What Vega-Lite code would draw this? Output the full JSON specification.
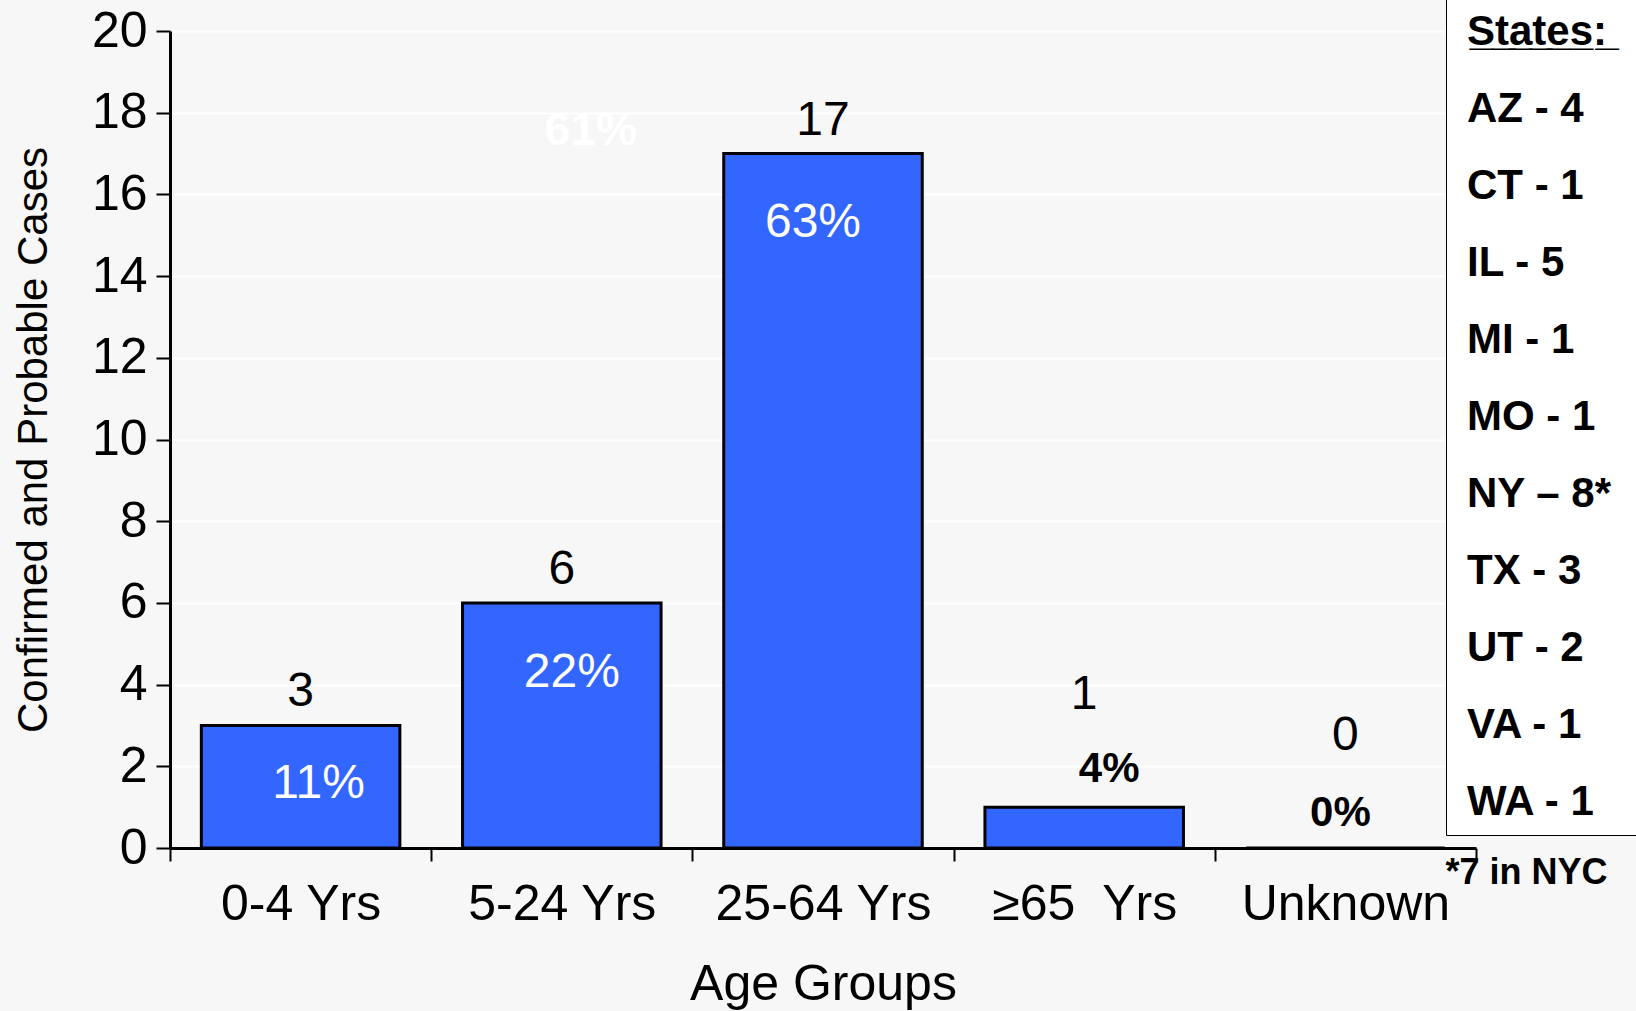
{
  "$schema": "https://vega.github.io/schema/vega-lite/v6.json",
  "background": "#F7F7F7",
  "padding": {"left": 12, "top": -2, "right": 0, "bottom": 5},
  "width": 1306,
  "height": 817,
  "config": {
    "font": "Liberation Sans",
    "view": {"stroke": null},
    "axis": {"labelFont": "Liberation Sans", "titleFont": "Liberation Sans", "labelColor": "black", "titleColor": "black", "titleFontWeight": "normal"}
  },
  "layer": [
    {
      "data": {
        "values": [
          {"age": "0-4 Yrs", "count": 3, "pct": "11%"},
          {"age": "5-24 Yrs", "count": 6, "pct": "22%"},
          {"age": "25-64 Yrs", "count": 17, "pct": "63%"},
          {"age": "≥65\u00a0 Yrs", "count": 1, "pct": "4%"},
          {"age": "Unknown", "count": 0, "pct": "0%"}
        ]
      },
      "encoding": {
        "x": {
          "field": "age", "type": "nominal", "sort": null,
          "scale": {"domain": ["0-4 Yrs", "5-24 Yrs", "25-64 Yrs", "≥65\u00a0 Yrs", "Unknown"], "paddingInner": 0, "paddingOuter": 0},
          "axis": {
            "title": "Age Groups", "titleFontSize": 50, "titlePadding": 30,
            "labelFontSize": 50, "labelAngle": 0, "labelPadding": 18, "labelLimit": 400,
            "domainColor": "black", "domainWidth": 3,
            "tickColor": "black", "tickWidth": 2, "tickSize": 13, "tickBand": "extent",
            "grid": false
          }
        },
        "y": {
          "field": "count", "type": "quantitative",
          "scale": {"domain": [0, 20], "nice": false},
          "axis": {
            "title": "Confirmed and Probable Cases", "titleFontSize": 42, "titlePadding": 36,
            "values": [0, 2, 4, 6, 8, 10, 12, 14, 16, 18, 20],
            "labelFontSize": 50, "labelPadding": 9,
            "domainColor": "black", "domainWidth": 3,
            "tickColor": "black", "tickWidth": 2, "tickSize": 14,
            "grid": true, "gridColor": "white", "gridWidth": 2
          }
        }
      },
      "layer": [
        {"mark": {"type": "bar", "color": "#3366FF", "stroke": "black", "strokeWidth": 3, "width": {"band": 0.76}}},
        {
          "transform": [{"filter": "datum.count >= 3"}],
          "mark": {"type": "text", "fontSize": 48, "baseline": "alphabetic", "dy": -19, "color": "black"},
          "encoding": {"text": {"field": "count"}}
        },
        {
          "transform": [{"filter": "datum.count < 3"}],
          "mark": {"type": "text", "fontSize": 48, "baseline": "alphabetic", "dy": -98, "color": "black"},
          "encoding": {"text": {"field": "count"}}
        },
        {
          "transform": [{"filter": "datum.pct == '11%'"}],
          "mark": {"type": "text", "fontSize": 48, "baseline": "alphabetic", "dx": 18, "dy": 73, "color": "white"},
          "encoding": {"text": {"field": "pct"}}
        },
        {
          "transform": [{"filter": "datum.pct == '22%'"}],
          "mark": {"type": "text", "fontSize": 48, "baseline": "alphabetic", "dx": 10, "dy": 84, "color": "white"},
          "encoding": {"text": {"field": "pct"}}
        },
        {
          "transform": [{"filter": "datum.pct == '63%'"}],
          "mark": {"type": "text", "fontSize": 48, "baseline": "alphabetic", "dx": -10, "dy": 83, "color": "white"},
          "encoding": {"text": {"field": "pct"}}
        },
        {
          "transform": [{"filter": "datum.pct == '4%'"}],
          "mark": {"type": "text", "fontSize": 42, "fontWeight": "bold", "baseline": "alphabetic", "dx": 25, "dy": -25, "color": "black"},
          "encoding": {"text": {"field": "pct"}}
        },
        {
          "transform": [{"filter": "datum.pct == '0%'"}],
          "mark": {"type": "text", "fontSize": 42, "fontWeight": "bold", "baseline": "alphabetic", "dx": -5, "dy": -22, "color": "black"},
          "encoding": {"text": {"field": "pct"}}
        }
      ]
    },
    {
      "data": {"values": [{"ghost": "61%"}]},
      "mark": {"type": "text", "fontSize": 46, "fontWeight": "bold", "baseline": "alphabetic", "dx": 29, "color": "#FFFFFF"},
      "encoding": {
        "x": {"datum": "5-24 Yrs", "type": "nominal"},
        "y": {"datum": 17.2, "type": "quantitative"},
        "text": {"field": "ghost"}
      }
    },
    {
      "data": {"values": [{"note": "*7 in NYC"}]},
      "mark": {"type": "text", "fontSize": 36, "fontWeight": "bold", "baseline": "alphabetic", "align": "left", "dx": 100, "color": "black"},
      "encoding": {
        "x": {"datum": "Unknown", "type": "nominal"},
        "y": {"datum": -0.89, "type": "quantitative"},
        "text": {"field": "note"}
      }
    },
    {
      "data": {
        "values": [
          {"line": "S̲t̲a̲t̲e̲s̲:̲"},
          {"line": "AZ - 4"},
          {"line": "CT - 1"},
          {"line": "IL - 5"},
          {"line": "MI - 1"},
          {"line": "MO - 1"},
          {"line": "NY – 8*"},
          {"line": "TX - 3"},
          {"line": "UT - 2"},
          {"line": "VA - 1"},
          {"line": "WA - 1"}
        ]
      },
      "mark": {"type": "point", "opacity": 0},
      "encoding": {
        "color": {
          "field": "line", "type": "nominal", "sort": null,
          "scale": {"range": ["black"]},
          "legend": {
            "title": null, "orient": "none", "legendX": 1276, "legendY": -32,
            "padding": 12, "rowPadding": 35, "labelOffset": -243, "symbolOffset": 210,
            "labelFont": "Liberation Sans", "labelFontSize": 42, "labelFontWeight": "bold", "labelColor": "black", "labelLimit": 600,
            "symbolSize": 1, "symbolOpacity": 0, "symbolStrokeWidth": 0, "symbolFillColor": "transparent",
            "strokeColor": "black", "fillColor": "white"
          }
        }
      }
    }
  ]
}
